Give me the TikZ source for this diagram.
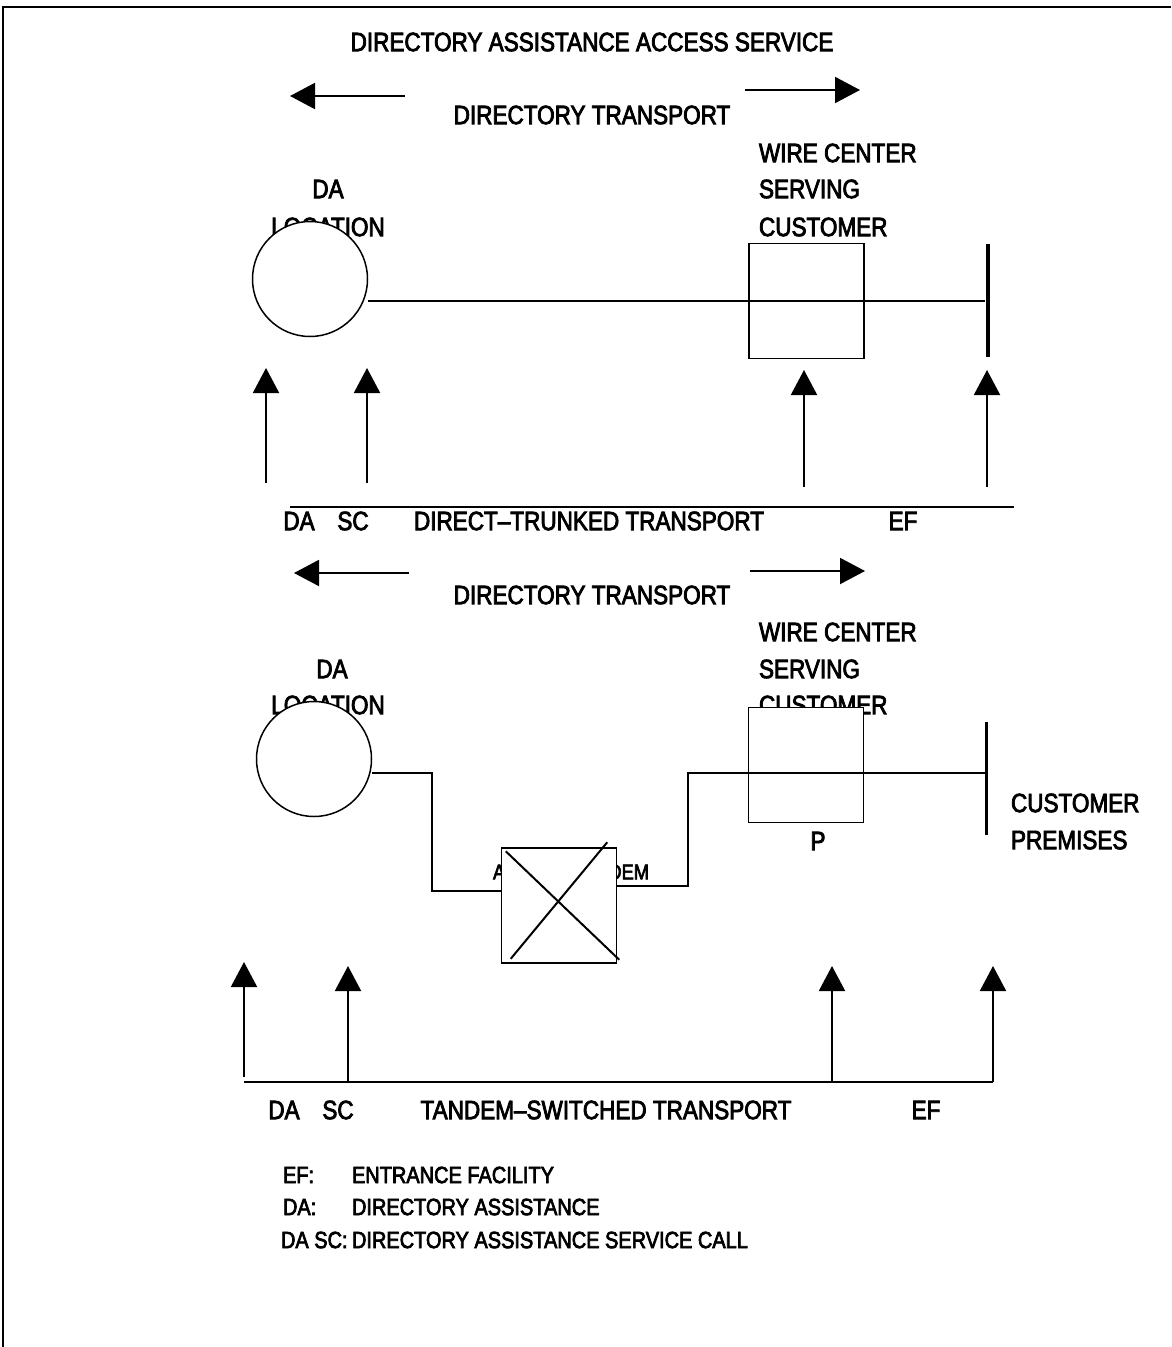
\documentclass[tikz,border=0pt]{standalone}
\usepackage{fontspec}
\setmainfont{Liberation Sans}[FakeStretch=0.85, FakeBold=3]
\usetikzlibrary{arrows.meta,positioning}

\begin{document}
\begin{tikzpicture}[x=1pt, y=-1pt, line width=2pt,
    lbl/.style={inner sep=0pt, font=\fontsize{26.5}{30}\selectfont},
    leg/.style={inner sep=0pt, anchor=west, font=\fontsize{23.5}{27}\selectfont},
    office/.style={draw, circle, fill=white, minimum size=115pt, inner sep=0pt, line width=1.5pt},
    wirebox/.style={draw, fill=white, minimum size=115pt, inner sep=0pt, line width=1.5pt},
    efbar/.style={fill=black, inner sep=0pt, minimum width=#1, minimum height=113pt},
    uptip/.style={-{Triangle[length=25pt,width=26pt]}}]
  \useasboundingbox (0,0) rectangle (1171,1347);
  \draw (3,1347) -- (3,7) -- (1171,7);

  % title
  \node[lbl] (title) at (592,42) {DIRECTORY ASSISTANCE ACCESS SERVICE};

  % direct-trunked transport
  \draw[uptip] (405,96) -- (290,96);
  \draw[uptip] (745,90) -- (860,90);
  \node[lbl] (dt1) at (592,115) {DIRECTORY TRANSPORT};
  \node[lbl, anchor=west] (wc1a) at (758,153) {WIRE CENTER};
  \node[lbl, anchor=west] (wc1b) at (758,189) {SERVING};
  \node[lbl, anchor=west] (wc1c) at (758,227) {CUSTOMER};
  \node[lbl] (dl1a) at (328,189) {DA};
  \node[lbl] (dl1b) at (328,227) {LOCATION};
  \node[office] (da1) at (310,279) {};
  \node[wirebox] (wire1) at (806.5,301) {};
  \node[efbar=4pt] (ef1) at (988,300.5) {};
  \draw (da1.east |- ef1) -- (ef1);

  \draw[uptip] (266,483) -- (266,368);
  \draw[uptip] (367,483) -- (367,368);
  \draw[uptip] (804,487) -- (804,370);
  \draw[uptip] (987,487) -- (987,370);
  \draw (290,507) -- (1014,507);
  \node[lbl] (da1l) at (299,521) {DA};
  \node[lbl] (sc1l) at (353,521) {SC};
  \node[lbl] (dtt) at (589,521) {DIRECT--TRUNKED TRANSPORT};
  \node[lbl] (ef1l) at (903,521) {EF};

  % tandem-switched transport
  \draw[uptip] (409,573) -- (294,573);
  \draw[uptip] (750,571) -- (865,571);
  \node[lbl] (dt2) at (592,595) {DIRECTORY TRANSPORT};
  \node[lbl, anchor=west] (wc2a) at (758,632) {WIRE CENTER};
  \node[lbl, anchor=west] (wc2b) at (758,669) {SERVING};
  \node[lbl, anchor=west] (wc2c) at (758,705) {CUSTOMER};
  \node[lbl] (dl2a) at (332,669) {DA};
  \node[lbl] (dl2b) at (328,705) {LOCATION};
  \node[office] (da2) at (314,759) {};
  \node[inner sep=0pt, font=\fontsize{21.5}{25}\selectfont] (atl) at (571,872) {ACCESS TANDEM};
  \node[wirebox] (tandem) at (559,905.5) {};
  \draw ([shift={(5,4)}]tandem.north west) -- ([shift={(2,-4)}]tandem.south east);
  \draw ([shift={(10,-5)}]tandem.south west) -- ([shift={(-10,-5)}]tandem.north east);
  \node[wirebox] (wire2) at (806,765) {};
  \node[efbar=3pt] (ef2) at (986,778) {};
  \coordinate (j1) at (432,773);
  \coordinate (j2) at (432,891);
  \coordinate (j3) at (688,886);
  \coordinate (j4) at (688,773);
  \draw (j1 -| da2.east) -- (j1) -- (j2) -- (j2 -| tandem.west);
  \draw (tandem.east |- j3) -- (j3) -- (j4) -- (j4 -| ef2);
  \node[lbl] (pl) at (818,841) {P};
  \node[lbl, anchor=west] (cp1) at (1010,803) {CUSTOMER};
  \node[lbl, anchor=west] (cp2) at (1010,840) {PREMISES};

  \draw[uptip] (244,1077) -- (244,962);
  \draw[uptip] (348,1082) -- (348,966);
  \draw[uptip] (832,1082) -- (832,966);
  \draw[uptip] (993,1082) -- (993,966);
  \draw (244,1082) -- (993,1082);
  \node[lbl] (da2l) at (284,1110) {DA};
  \node[lbl] (sc2l) at (338,1110) {SC};
  \node[lbl] (tst) at (606,1110) {TANDEM--SWITCHED TRANSPORT};
  \node[lbl] (ef2l) at (926,1110) {EF};

  % legend
  \node[leg] (k1) at (282,1175) {EF:};
  \node[leg] (v1) at (351,1175) {ENTRANCE FACILITY};
  \node[leg] (k2) at (282,1207) {DA:};
  \node[leg] (v2) at (351,1207) {DIRECTORY ASSISTANCE};
  \node[leg] (k3) at (280,1240) {DA SC:};
  \node[leg] (v3) at (351,1240) {DIRECTORY ASSISTANCE SERVICE CALL};
\end{tikzpicture}
\end{document}
